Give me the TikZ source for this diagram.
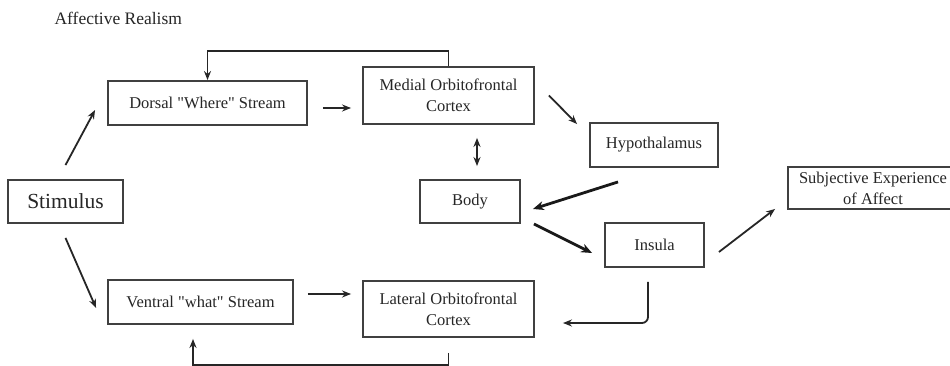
\documentclass[tikz,border=0pt]{standalone}
\usepackage{fontspec}
\setmainfont{Liberation Serif}
\usetikzlibrary{arrows.meta,calc}
\tikzset{
  box/.style={draw=black!75, line width=1.9pt, inner sep=0pt, align=center,
    font=\fontsize{16.5}{21}\selectfont, text=black!85},
  conn/.style={draw=black!85, line width=1.8pt, -{Stealth[length=9pt,width=7pt]}},
  thickconn/.style={draw=black!90, line width=2.8pt, -{Stealth[length=11pt,width=9pt]}},
}
\begin{document}
\begin{tikzpicture}[x=1pt,y=-1pt]
\useasboundingbox (0,0) rectangle (950,366);
\clip (0,0) rectangle (950,366);
\fill[white] (0,0) rectangle (950,366);
\node[anchor=west, font=\fontsize{17.5}{21}\selectfont, text=black!85] (title) at (51,18) {Affective Realism};
\node[box, minimum width=199pt, minimum height=44pt] (dorsal) at (207.5,103) {Dorsal \textquotedbl Where\textquotedbl{} Stream};
\node[box, minimum width=171pt, minimum height=57pt] (medial) at (448.5,95.5) {Medial Orbitofrontal\\Cortex};
\node[box, minimum width=128pt, minimum height=44pt] (hyp) at (654,145) {Hypothalamus};
\node[box, minimum width=115pt, minimum height=43pt, font=\fontsize{21.5}{24}\selectfont] (stim) at (65.5,201.5) {Stimulus};
\node[box, minimum width=100pt, minimum height=43pt] (body) at (470,201.5) {Body};
\node[box, minimum width=170pt, minimum height=42pt] (subj) at (873,188) {Subjective Experience\\of Affect};
\node[box, minimum width=99pt, minimum height=44pt] (insula) at (654.5,245) {Insula};
\node[box, minimum width=185pt, minimum height=44pt] (ventral) at (200.5,302) {Ventral \textquotedbl what\textquotedbl{} Stream};
\node[box, minimum width=171pt, minimum height=56pt] (lateral) at (448.5,309) {Lateral Orbitofrontal\\Cortex};

\draw[conn] ([yshift=14pt]stim.north) -- ([xshift=-12pt,yshift=-7pt]dorsal.west);
\draw[conn] ([yshift=-14pt]stim.south) -- ([xshift=-11pt,yshift=-6pt]ventral.west);
\draw[conn] ([xshift=15pt,yshift=-5pt]dorsal.east) -- ([xshift=-11pt,yshift=-12.5pt]medial.west);
\draw[conn] ([xshift=14pt,yshift=8pt]ventral.east) -- ([xshift=-11pt,yshift=15pt]lateral.west);
\draw[conn] (medial.north) -- ++(0,-15) -| (dorsal.north);
\draw[conn] ([yshift=-15pt]lateral.south) -- ++(0,12) -| ([xshift=-7.5pt,yshift=-14pt]ventral.south);
\draw[conn, {Stealth[length=9pt,width=7pt]}-{Stealth[length=9pt,width=7pt]}] ([xshift=28.5pt,yshift=-13pt]medial.south) -- ([xshift=7pt,yshift=13pt]body.north);
\draw[conn] ([xshift=14pt]medial.east) -- ([xshift=-12pt,yshift=-2pt]hyp.north west);
\draw[thickconn] ([xshift=-36pt,yshift=-14pt]hyp.south) -- ([xshift=12pt,yshift=-7.5pt]body.east);
\draw[thickconn] ([xshift=13pt]body.south east) -- ([xshift=-12pt,yshift=-8pt]insula.west);
\draw[conn] ([xshift=14pt,yshift=-7pt]insula.east) -- ([xshift=-12pt,yshift=1pt]subj.south west);
\draw[conn, rounded corners=6pt] ([xshift=-6.5pt,yshift=-14pt]insula.south) |- ([xshift=28pt,yshift=-14pt]lateral.east);
\end{tikzpicture}
\end{document}
